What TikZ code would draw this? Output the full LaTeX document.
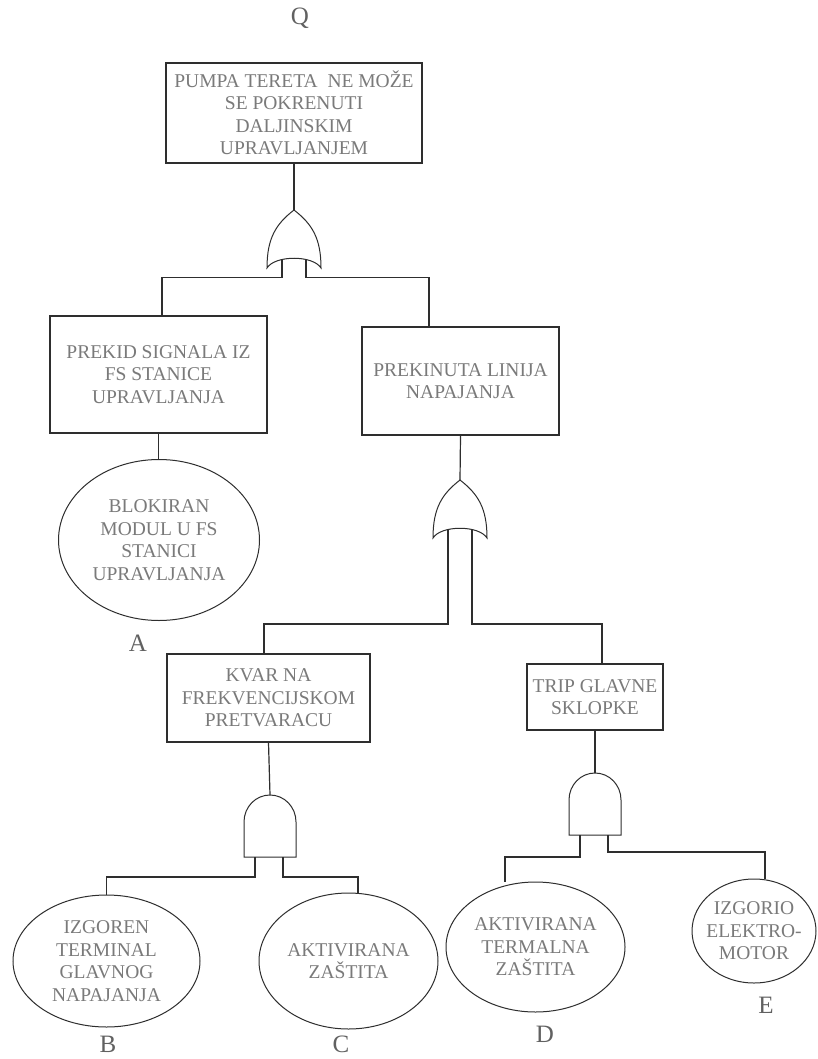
\documentclass[tikz,border=0pt]{standalone}
\usepackage{fontspec}
\setmainfont{Liberation Serif}
\usetikzlibrary{shapes.geometric}
\definecolor{txtgray}{gray}{0.48}
\definecolor{lblgray}{gray}{0.38}
\definecolor{linegray}{gray}{0.18}
\tikzset{
  txt/.style={font=\fontsize{19.5}{22.5}\selectfont, text=txtgray, align=center},
  evbox/.style={draw=linegray, line width=1.3pt, rectangle, inner sep=2pt, txt},
  evcirc/.style={draw=linegray, line width=1pt, ellipse, inner sep=0pt},
  evtext/.style={txt, inner sep=0pt},
  lbl/.style={font=\fontsize{25}{28}\selectfont, text=lblgray, inner sep=0pt},
  conn/.style={draw=linegray, line width=1.2pt},
  gateline/.style={draw=linegray, line width=1pt, fill=white},
  orgate/.pic={
    \draw[gateline] (0,0) .. controls (-18,14) and (-27,28) .. (-27,58)
      .. controls (-19,45) and (19,45) .. (27,58)
      .. controls (27,28) and (18,14) .. (0,0) -- cycle;
    \coordinate (-in) at (0,0);
    \coordinate (-l) at (-12,49.5);
    \coordinate (-r) at (12,49.5);
  },
  andgate/.pic={
    \draw[gateline] (-26,62) -- (-26,27) .. controls (-26,12) and (-14.4,0) .. (0,0)
      .. controls (14.4,0) and (26,12) .. (26,27) -- (26,62) -- cycle;
    \coordinate (-in) at (0,0);
    \coordinate (-l) at (-15,62);
    \coordinate (-r) at (13,62);
  }
}
\begin{document}
\begin{tikzpicture}[x=1pt,y=-1pt]
\fill[white] (0,0) rectangle (817,1059);
\useasboundingbox (0,0) rectangle (817,1059);

% labels
\node[lbl] (lq) at (300,18) {Q};
\node[lbl] (la) at (138,643) {A};
\node[lbl] (lb) at (108,1044) {B};
\node[lbl] (lc) at (341,1044) {C};
\node[lbl] (ld) at (545,1034) {D};
\node[lbl] (le) at (766,1005) {E};

% events (boxes)
\node[evbox, minimum width=256pt, minimum height=100pt] (top) at (294,113)
  {PUMPA TERETA~ NE MOŽE\\SE POKRENUTI\\DALJINSKIM\\UPRAVLJANJEM};
\node[evbox, minimum width=217pt, minimum height=117pt] (pl) at (158.5,374.5)
  {PREKID SIGNALA IZ\\FS STANICE\\UPRAVLJANJA};
\node[evbox, minimum width=197pt, minimum height=108pt] (pr) at (460.5,381)
  {PREKINUTA LINIJA\\NAPAJANJA};
\node[evbox, minimum width=203pt, minimum height=88pt] (kv) at (268.5,698)
  {KVAR NA\\FREKVENCIJSKOM\\PRETVARACU};
\node[evbox, minimum width=136pt, minimum height=66pt] (tr) at (595,697)
  {TRIP GLAVNE\\SKLOPKE};

% basic events (ellipses)
\node[evcirc, minimum width=201pt, minimum height=161pt,
  label={[evtext]center:BLOKIRAN\\MODUL U FS\\STANICI\\UPRAVLJANJA}] (ea) at (159,540) {};
\node[evcirc, minimum width=187pt, minimum height=132pt,
  label={[evtext]center:IZGOREN\\TERMINAL\\GLAVNOG\\NAPAJANJA}] (eb) at (106.5,961) {};
\node[evcirc, minimum width=179pt, minimum height=136pt,
  label={[evtext]center:AKTIVIRANA\\ZAŠTITA}] (ec) at (348.5,961) {};
\node[evcirc, minimum width=179pt, minimum height=130pt,
  label={[evtext]center:AKTIVIRANA\\TERMALNA\\ZAŠTITA}] (ed) at (535.5,947) {};
\node[evcirc, minimum width=124pt, minimum height=104pt,
  label={[evtext]center:IZGORIO\\ELEKTRO-\\MOTOR}] (ee) at (754,931) {};

% gates
\pic (g1) at (294,210) {orgate};
\pic (g2) at (460,480) {orgate};
\pic (a1) at (270,795) {andgate};
\pic (a2) at (595,773) {andgate};

% connectors
\draw[conn] (top.south) -- (g1-in);
\draw[conn] (g1-l) -- ++(0,18) -| ([xshift=3.5pt]pl.north);
\draw[conn] (g1-r) -- ++(0,18) -| ([xshift=-31.5pt]pr.north);
\draw[conn] (pl.south) -- (pl.south |- ea.north);
\draw[conn] (pr.south) -- (g2-in);
\draw[conn] (g2-l) -- ++(0,94.5) -| ([xshift=-4.5pt]kv.north);
\draw[conn] (g2-r) -- ++(0,94.5) -| ([xshift=7pt]tr.north);
\draw[conn] (kv.south) -- (a1-in);
\draw[conn] (tr.south) -- (a2-in);
\draw[conn] (a1-l) -- ++(0,20) -| (eb.north);
\draw[conn] (a1-r) -- ++(0,20) -| ([xshift=9.5pt]ec.north);
\draw[conn] (a2-l) -- ++(0,22) -| ([xshift=-30.5pt]ed.north);
\draw[conn] (a2-r) -- ++(0,17) -| ([xshift=11pt]ee.north);
\end{tikzpicture}
\end{document}
